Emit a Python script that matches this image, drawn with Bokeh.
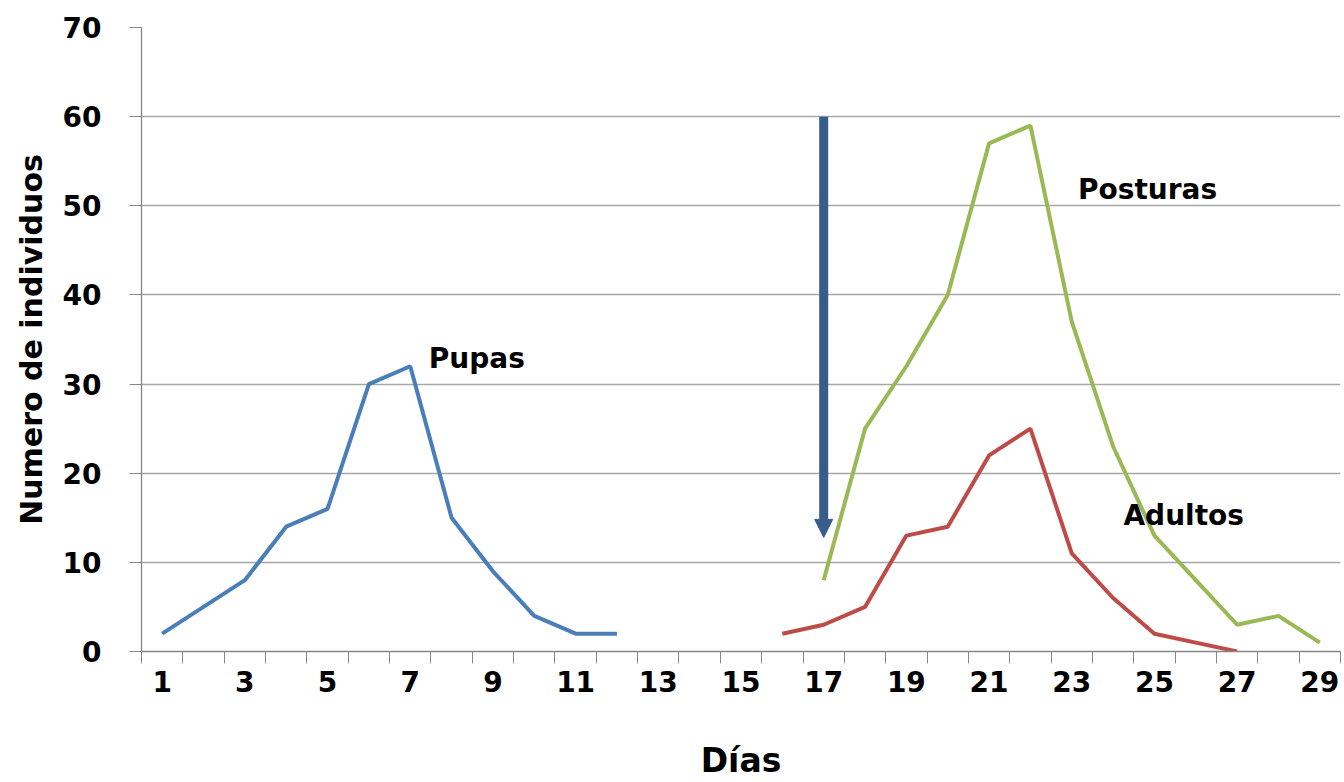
from bokeh.plotting import figure
from bokeh.models import FixedTicker, Arrow, NormalHead, Range1d, ColumnDataSource, Title
from bokeh.core.properties import value
from bokeh.embed import file_html
from bokeh.resources import INLINE

# ---- data ----
pupas_days = [1, 2, 3, 4, 5, 6, 7, 8, 9, 10, 11, 12]
pupas_vals = [2, 5, 8, 14, 16, 30, 32, 15, 9, 4, 2, 2]

adultos_days = [16, 17, 18, 19, 20, 21, 22, 23, 24, 25, 26, 27]
adultos_vals = [2, 3, 5, 13, 14, 22, 25, 11, 6, 2, 1, 0]

posturas_days = [17, 18, 19, 20, 21, 22, 23, 24, 25, 26, 27, 28, 29]
posturas_vals = [8, 25, 32, 40, 57, 59, 37, 23, 13, 8, 3, 4, 1]

x_tick_labels = [1, 3, 5, 7, 9, 11, 13, 15, 17, 19, 21, 23, 25, 27, 29]
y_ticks = [0, 10, 20, 30, 40, 50, 60, 70]

series_names = ["Pupas", "Posturas", "Adultos"]
label_x = [7.45, 23.15, 24.25]
label_y = [32.9, 51.8, 15.3]

arrow_day = 17
arrow_from = 60
arrow_to = 12.8

FONT = "DejaVu Sans"
W, H = 1344, 782

p = figure(width=W, height=H, output_backend="svg", toolbar_location=None,
           x_range=Range1d(0.5, 29.5), y_range=Range1d(0, 70),
           min_border_left=140, min_border_right=4, min_border_top=27,
           min_border_bottom=130)
p.outline_line_color = None
p.background_fill_color = "white"
p.border_fill_color = "white"

# grid
p.xgrid.grid_line_color = None
p.ygrid.grid_line_color = "#a6a6a6"
p.ygrid.grid_line_width = 1.3
p.ygrid.ticker = FixedTicker(ticks=y_ticks)

# x axis
xa = p.xaxis[0]
xa.ticker = FixedTicker(ticks=x_tick_labels,
                        minor_ticks=[d + 0.5 for d in range(0, 30)])
xa.major_tick_out = 0
xa.major_tick_in = 0
xa.minor_tick_out = 12
xa.minor_tick_in = 0
xa.minor_tick_line_color = "#868686"
xa.axis_line_color = "#868686"
xa.axis_line_width = 1.3
xa.major_label_standoff = 7
xa.major_label_text_font = FONT
xa.major_label_text_font_style = "bold"
xa.major_label_text_font_size = "28px"
xa.major_label_text_color = "black"
xa.axis_label = "Días"
xa.axis_label_text_font = FONT
xa.axis_label_text_font_style = "bold"
xa.axis_label_text_font_size = "33px"
xa.axis_label_text_color = "black"
xa.axis_label_standoff = 46

# y axis
ya = p.yaxis[0]
ya.ticker = FixedTicker(ticks=y_ticks)
ya.minor_tick_line_color = None
ya.major_tick_out = 12
ya.major_tick_in = 0
ya.major_tick_line_color = "#868686"
ya.axis_line_color = "#868686"
ya.axis_line_width = 1.3
ya.major_label_standoff = 28
ya.major_label_text_font = FONT
ya.major_label_text_font_style = "bold"
ya.major_label_text_font_size = "28px"
ya.major_label_text_color = "black"

# y-axis title as a left-side title, shifted down like the reference
p.add_layout(Title(text="Numero de individuos", align="center", offset=40, standoff=22,
                   text_font=FONT, text_font_style="bold", text_font_size="30px",
                   text_color="black"), "left")

# lines
p.line(pupas_days, pupas_vals, line_color="#4a7ebb", line_width=4)
p.line(posturas_days, posturas_vals, line_color="#98b954", line_width=4)
p.line(adultos_days, adultos_vals, line_color="#be4b48", line_width=4)

# arrow
p.add_layout(Arrow(x_start=arrow_day, y_start=arrow_from, x_end=arrow_day, y_end=arrow_to,
                   line_color="#385d8a", line_width=9,
                   end=NormalHead(size=18, fill_color="#385d8a", line_color="#385d8a", line_width=1)))

# series labels
src = ColumnDataSource(dict(x=label_x, y=label_y, t=series_names))
p.text(x="x", y="y", text="t", source=src, text_font=value(FONT), text_font_style="bold",
       text_font_size="28px", text_color="black", text_align="left", text_baseline="middle")

open("out.html", "w").write(file_html(p, INLINE))
